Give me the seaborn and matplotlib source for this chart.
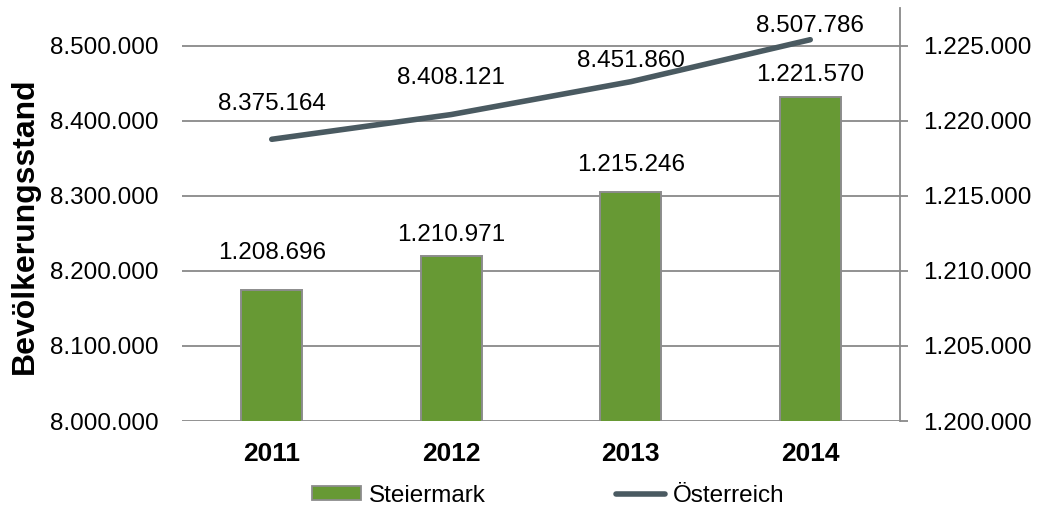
import matplotlib
matplotlib.use("Agg")
import matplotlib.pyplot as plt
from matplotlib.patches import Rectangle
from matplotlib.lines import Line2D
from matplotlib.ticker import FuncFormatter
import numpy as np
import pandas as pd
import seaborn as sns

# Population figures
years = ["2011", "2012", "2013", "2014"]
steiermark = [1208696, 1210971, 1215246, 1221570]
oesterreich = [8375164, 8408121, 8451860, 8507786]

left_ticks = [8000000, 8100000, 8200000, 8300000, 8400000, 8500000]
right_ticks = [1200000, 1205000, 1210000, 1215000, 1220000, 1225000]

# Label lift above each mark, in pixels (layout only)
line_label_lift = [35, 37, 21, 14]
bar_label_lift = [37, 21, 27, 22]

BAR_GREEN = "#679934"
LINE_GREY = "#4a5a61"
GRID_GREY = "#898989"
EDGE_GREY = "#8c8c8c"
FS = 17.5

sns.set_theme(style="white")
plt.rcParams["font.family"] = ["Liberation Sans", "DejaVu Sans"]
plt.rcParams.update({"text.color": "black", "axes.labelcolor": "black",
                     "xtick.color": "black", "ytick.color": "black"})


def de_fmt(v, _=None):
    return f"{int(round(v)):,}".replace(",", ".")


df = pd.DataFrame({"Jahr": years, "Steiermark": steiermark,
                   "Österreich": oesterreich, "pos": np.arange(len(years))})

fig = plt.figure(figsize=(10.43, 5.07), dpi=100)
ax = fig.add_axes([182 / 1043, 86 / 507, 718 / 1043, 413 / 507])
ax2 = ax.twinx()

# Steiermark bars (right-hand scale)
sns.barplot(data=df, x="Jahr", y="Steiermark", ax=ax, color=BAR_GREEN,
            saturation=1, width=0.34, edgecolor=EDGE_GREY, linewidth=1.4,
            zorder=3)
ax.set_ylim(1200000, 1227500)
ax.set_xlim(-0.5, 3.5)
ax.yaxis.tick_right()
ax.set_yticks(right_ticks)
ax.yaxis.set_major_formatter(FuncFormatter(de_fmt))
ax.tick_params(axis="y", which="major", direction="out", length=6,
               width=1.3, color=GRID_GREY, labelsize=FS, pad=10.5,
               labelcolor="black", right=True, left=False,
               labelright=True, labelleft=False)
ax.tick_params(axis="x", length=0, labelsize=19, pad=15)
for lbl in ax.get_xticklabels():
    lbl.set_fontweight("bold")
ax.set_xlabel("")
ax.set_ylabel("")
ax.grid(axis="y", color=GRID_GREY, linewidth=1.3, zorder=0)
ax.set_axisbelow(True)
for side in ["left", "top", "bottom"]:
    ax.spines[side].set_visible(False)
ax.spines["right"].set_color(GRID_GREY)
ax.spines["right"].set_linewidth(1.3)

for patch, v, lift in zip(ax.patches, steiermark, bar_label_lift):
    ax.annotate(de_fmt(v),
                (patch.get_x() + patch.get_width() / 2,
                 patch.get_y() + patch.get_height()),
                xytext=(0, lift * 0.72), textcoords="offset points",
                ha="center", va="center", fontsize=FS, color="black")

# Österreich line (left-hand scale)
sns.lineplot(data=df, x="pos", y="Österreich", ax=ax2, color=LINE_GREY,
             linewidth=4, solid_capstyle="round", zorder=4)
ax2.set_ylim(8000000, 8550000)
ax2.set_xlim(-0.5, 3.5)
ax2.yaxis.tick_left()
ax2.set_yticks(left_ticks)
ax2.yaxis.set_major_formatter(FuncFormatter(de_fmt))
ax2.tick_params(axis="y", length=0, labelsize=FS, pad=17,
                labelcolor="black", left=True, right=False,
                labelleft=True, labelright=False)
for side in ax2.spines:
    ax2.spines[side].set_visible(False)
ax2.set_xlabel("")
ax2.set_ylabel("")

for x, v, lift in zip(df["pos"], oesterreich, line_label_lift):
    ax2.annotate(de_fmt(v), (x, v), xytext=(0, lift * 0.72),
                 textcoords="offset points", ha="center", va="center",
                 fontsize=FS, color="black")

fig.text(25 / 1043, 0.555, "Bevölkerungsstand", rotation=90,
         ha="center", va="center", fontsize=23, fontweight="bold",
         color="black")

handles = [Rectangle((0, 0), 1, 1, facecolor=BAR_GREEN, edgecolor=EDGE_GREY,
                     linewidth=1.3),
           Line2D([0], [0], color=LINE_GREY, linewidth=4,
                  solid_capstyle="round")]
fig.legend(handles, ["Steiermark", "Österreich"], loc="center",
           bbox_to_anchor=(548 / 1043, 11 / 507), ncol=2, frameon=False,
           fontsize=FS, handlelength=2.05, handleheight=0.5,
           handletextpad=0.3, columnspacing=5.35, borderpad=0)

fig.savefig("out.png", dpi=100)
